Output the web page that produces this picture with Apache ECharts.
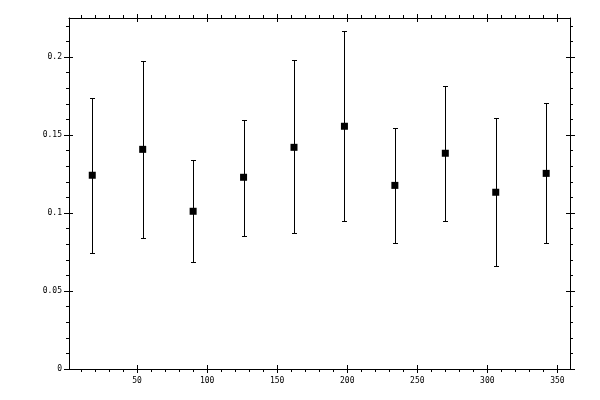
<!DOCTYPE html>
<html>
<head>
<meta charset="utf-8">
<script src="https://cdn.jsdelivr.net/npm/echarts@6/dist/echarts.min.js"></script>
<style>
  html, body { margin: 0; padding: 0; background: #fff; }
  #main { width: 600px; height: 400px; }
</style>
</head>
<body>
<div id="main"></div>
<script>
var chart = echarts.init(document.getElementById('main'));

// data
var xs    = [18, 54, 90, 126, 162, 198, 234, 270, 306, 342];
var ys    = [0.1242, 0.1408, 0.1011, 0.1229, 0.1421, 0.1556, 0.1177, 0.1383, 0.1133, 0.1254];
var highs = [0.1739, 0.1977, 0.1340, 0.1598, 0.1979, 0.2165, 0.1547, 0.1812, 0.1607, 0.1703];
var lows  = [0.0744, 0.0838, 0.0686, 0.0853, 0.0870, 0.0947, 0.0806, 0.0947, 0.0658, 0.0806];

// axis ticks / labels
var xLabels = [50, 100, 150, 200, 250, 300, 350];
var xMinor  = [10, 20, 30, 40, 50, 60, 70, 80, 90, 100, 110, 120, 130, 140, 150, 160, 170, 180,
               190, 200, 210, 220, 230, 240, 250, 260, 270, 280, 290, 300, 310, 320, 330, 340, 350];
var yLabels = [0, 0.05, 0.1, 0.15, 0.2];
var yMinor  = [0, 0.01, 0.02, 0.03, 0.04, 0.05, 0.06, 0.07, 0.08, 0.09, 0.1, 0.11, 0.12, 0.13,
               0.14, 0.15, 0.16, 0.17, 0.18, 0.19, 0.2, 0.21, 0.22];

var X_MIN = 1.4, X_MAX = 359, Y_MIN = 0, Y_MAX = 0.225;

var font = { fontFamily: 'DejaVu Sans Mono', fontSize: 8, color: '#000' };

function xAx(g, pos, ticks, len, inside, labels) {
  return {
    type: 'value', gridIndex: g, position: pos, min: X_MIN, max: X_MAX,
    axisLine: { show: g === 0, onZero: false, lineStyle: { color: '#000', width: 1 } },
    axisTick: { show: true, customValues: ticks, length: len, inside: inside, lineStyle: { color: '#000', width: 1 } },
    axisLabel: labels ? Object.assign({ show: true, customValues: labels, margin: 8 }, font) : { show: false },
    splitLine: { show: false }
  };
}
function yAx(g, pos, ticks, len, inside, labels) {
  return {
    type: 'value', gridIndex: g, position: pos, min: Y_MIN, max: Y_MAX,
    axisLine: { show: g === 0, onZero: false, lineStyle: { color: '#000', width: 1 } },
    axisTick: { show: true, customValues: ticks, length: len, inside: inside, lineStyle: { color: '#000', width: 1 } },
    axisLabel: labels ? Object.assign({ show: true, customValues: labels, margin: 7,
      formatter: function (v) { return String(+v.toFixed(3)); } }, font) : { show: false },
    splitLine: { show: false }
  };
}

var box = { left: 69, right: 30, top: 18, bottom: 31 };

var option = {
  backgroundColor: '#fff',
  animation: false,
  grid: [Object.assign({}, box), Object.assign({}, box), Object.assign({}, box)],
  xAxis: [
    xAx(0, 'bottom', xMinor, 3, false, xLabels),
    xAx(0, 'top', xMinor, 3, false),
    xAx(1, 'bottom', xLabels, 4, true),
    xAx(1, 'top', xLabels, 4, true),
    xAx(2, 'bottom', xLabels, 4, false),
    xAx(2, 'top', xLabels, 4, false)
  ],
  yAxis: [
    yAx(0, 'left', yMinor, 3, false, yLabels),
    yAx(0, 'right', yMinor, 3, false),
    yAx(1, 'left', yLabels, 4, true),
    yAx(1, 'right', yLabels, 4, true),
    yAx(2, 'left', yLabels, 5, false),
    yAx(2, 'right', yLabels, 5, false)
  ],
  series: [
    {
      type: 'custom',
      xAxisIndex: 0, yAxisIndex: 0,
      data: xs.map(function (x, i) { return [x, lows[i], highs[i]]; }),
      renderItem: function (params, api) {
        var lo = api.coord([api.value(0), api.value(1)]);
        var hi = api.coord([api.value(0), api.value(2)]);
        var x = Math.round(lo[0]) + 0.5;
        var y1 = Math.round(lo[1]) + 0.5, y2 = Math.round(hi[1]) + 0.5;
        var s = { stroke: '#000', lineWidth: 1 };
        return {
          type: 'group',
          children: [
            { type: 'line', shape: { x1: x, y1: y1, x2: x, y2: y2 }, style: s },
            { type: 'line', shape: { x1: x - 2.5, y1: y1, x2: x + 2.5, y2: y1 }, style: s },
            { type: 'line', shape: { x1: x - 2.5, y1: y2, x2: x + 2.5, y2: y2 }, style: s }
          ]
        };
      },
      z: 2
    },
    {
      type: 'scatter',
      xAxisIndex: 0, yAxisIndex: 0,
      symbol: 'rect',
      symbolSize: 7,
      itemStyle: { color: '#000', opacity: 1 },
      emphasis: { disabled: true },
      data: xs.map(function (x, i) { return [x, ys[i]]; }),
      z: 3
    }
  ]
};

chart.setOption(option);
</script>
</body>
</html>
